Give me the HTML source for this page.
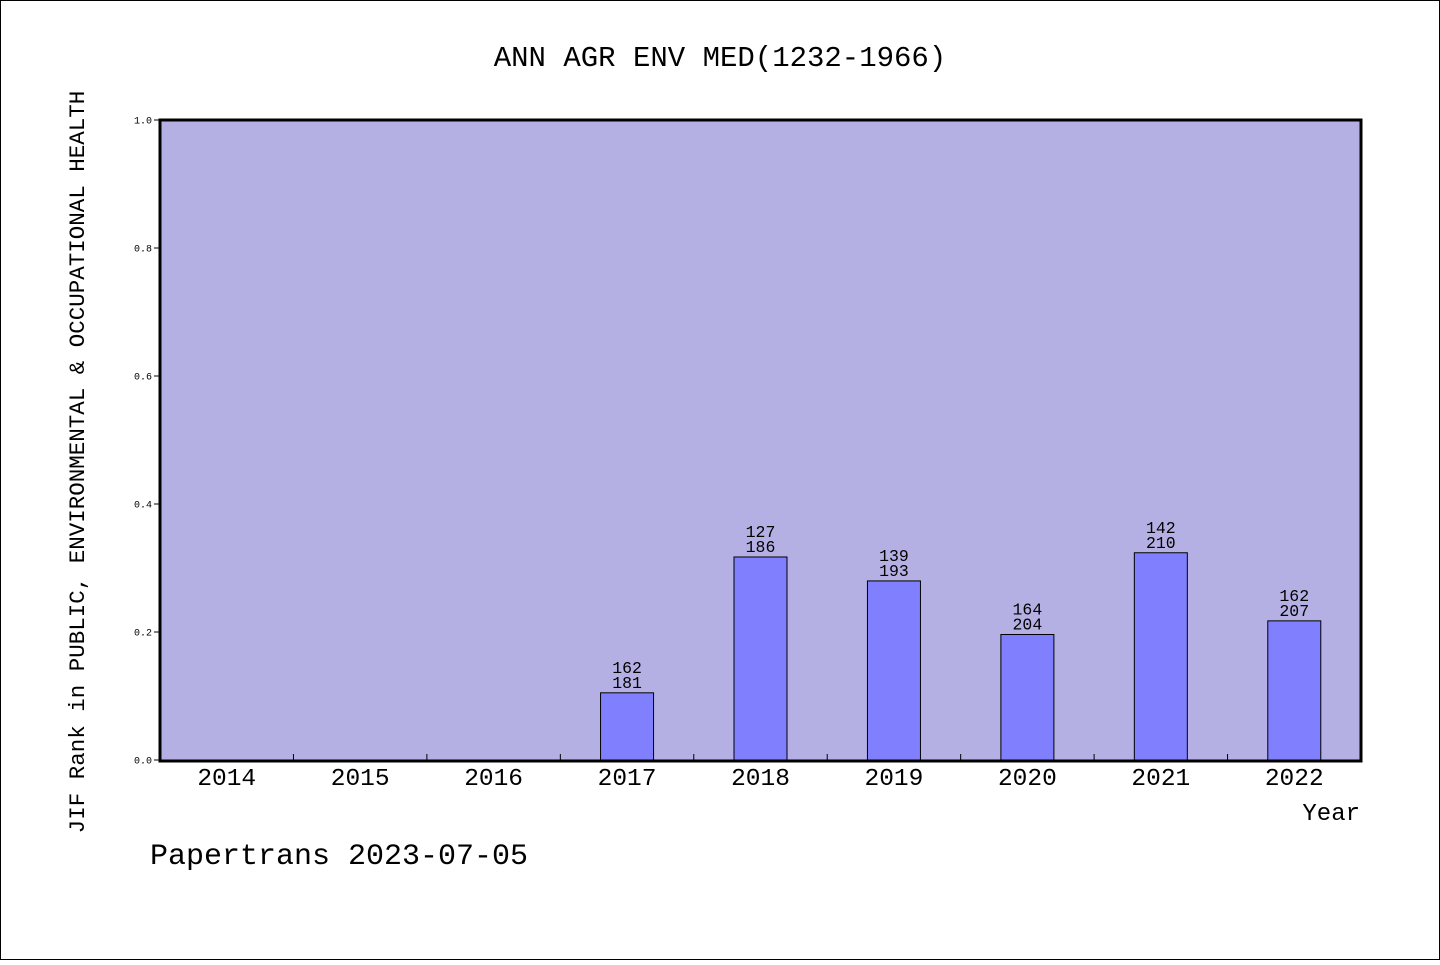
<!DOCTYPE html>
<html><head><meta charset="utf-8"><style>
body{margin:0;background:#fff}
svg text{font-family:"Liberation Mono","WenQuanYi Zen Hei",monospace;fill:#000}
</style></head><body>
<svg width="1440" height="960" xmlns="http://www.w3.org/2000/svg">
<rect x="0.5" y="0.5" width="1439" height="959" fill="#fff" stroke="#000"/>
<text x="720" y="66" font-size="29" text-anchor="middle">ANN AGR ENV MED(1232-1966)</text>
<rect x="160" y="120" width="1201" height="641" fill="#b5b0e3"/>
<g id="marks"></g>
<rect x="160" y="120" width="1201" height="641" fill="none" stroke="#000" stroke-width="3"/>
<text transform="translate(84,462) rotate(-90)" font-size="22.5" text-anchor="middle">JIF Rank in PUBLIC, ENVIRONMENTAL &amp; OCCUPATIONAL HEALTH</text>
<text x="1360" y="820" font-size="24" text-anchor="end">Year</text>
<text x="150" y="864" font-size="30">Papertrans 2023-07-05</text>
</svg>
<script>
const years=["2014","2015","2016","2017","2018","2019","2020","2021","2022"];
const ranks=[null,null,null,162,127,139,164,142,162];
const totals=[null,null,null,181,186,193,204,210,207];
const yTicks=[0,0.2,0.4,0.6,0.8,1.0];
const X0=160,W=1201,Y0=760,H=640;
const slot=W/years.length;
const xc=i=>X0+slot*(i+0.5);
const y=v=>Y0-v*H;
const g=document.getElementById('marks');
const NS='http://www.w3.org/2000/svg';
function mk(t,a){const e=document.createElementNS(NS,t);for(const k in a)e.setAttribute(k,a[k]);g.appendChild(e);return e;}
yTicks.forEach(v=>{
 const l=mk('line',{x1:X0-6,x2:X0,y1:y(v),y2:y(v),stroke:'#000'});
 
 
 const t=mk('text',{x:X0-8,y:y(v)+3.5,'font-size':10,'text-anchor':'end'});t.textContent=v.toFixed(1);
 
 
});
years.forEach((yr,i)=>{
 if(i>0){const l=mk('line',{x1:X0+slot*i,x2:X0+slot*i,y1:Y0-6,y2:Y0,stroke:'#000'});
 
 }
 const t=mk('text',{x:xc(i),y:785,'font-size':24.5,'text-anchor':'middle'});t.textContent=yr;
 
 
 if(ranks[i]!=null){
  const v=1-ranks[i]/totals[i];
  const b=mk('rect',{x:xc(i)-26.5,y:y(v),width:53,height:v*H,fill:'#8080ff',stroke:'#000','stroke-width':1});
  
  
  const t1=mk('text',{x:xc(i),y:y(v)-20,'font-size':16.5,'text-anchor':'middle'});t1.textContent=ranks[i];
  
  
  const t2=mk('text',{x:xc(i),y:y(v)-5,'font-size':16.5,'text-anchor':'middle'});t2.textContent=totals[i];
  
  
 }
});
</script>
</body></html>
